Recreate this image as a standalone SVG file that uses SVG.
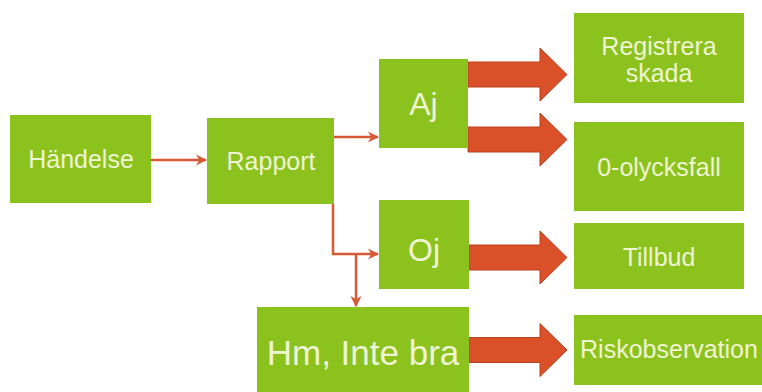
<svg xmlns="http://www.w3.org/2000/svg" width="762" height="392" viewBox="0 0 762 392">
<defs>
<style>
.box{fill:#8CC21E;}
.t{fill:#EFF4D2;font-family:"Liberation Sans",Arial,sans-serif;text-anchor:middle;}
.ln{fill:none;stroke:#D65A36;stroke-width:2.5;}
.blk{fill:#DA5029;stroke:#B9411F;stroke-width:1;}
</style>
<marker id="ah" viewBox="0 0 10 10" refX="9" refY="5" markerWidth="4.5" markerHeight="4.5" orient="auto" markerUnits="strokeWidth">
<path d="M0,0 L10,5 L0,10 L3,5 Z" fill="#D65A36"/>
</marker>
</defs>
<rect width="762" height="392" fill="#FFFFFF"/>
<g id="connectors">
<line class="ln" x1="151" y1="160" x2="206" y2="160" marker-end="url(#ah)"/>
<line class="ln" x1="334" y1="137" x2="378" y2="137" marker-end="url(#ah)"/>
<polyline class="ln" points="333,204 333,254 378,254" marker-end="url(#ah)"/>
<line class="ln" x1="356" y1="254" x2="356" y2="306" marker-end="url(#ah)"/>
<path class="blk" d="M468,62 H540 V48 L567,74.5 L540,101 V87 H468 Z"/>
<path class="blk" d="M468,127 H540 V113 L567,139.5 L540,166 V152 H468 Z"/>
<path class="blk" d="M469,245 H540 V231 L567,257.5 L540,284 V270 H469 Z"/>
<path class="blk" d="M469,337.5 H540 V323.5 L567,350 L540,376.5 V362.5 H469 Z"/>
</g>
<g id="handelse"><rect class="box" x="10" y="115" width="141" height="88"/><text class="t" x="81" y="168" font-size="25">Händelse</text></g>
<g id="rapport"><rect class="box" x="207" y="118" width="127" height="86"/><text class="t" x="271" y="170" font-size="25">Rapport</text></g>
<g id="aj"><rect class="box" x="379" y="59" width="89" height="89"/><text class="t" x="423.5" y="115" font-size="32">Aj</text></g>
<g id="oj"><rect class="box" x="379" y="200" width="90" height="89"/><text class="t" x="424" y="261" font-size="32">Oj</text></g>
<g id="hm"><rect class="box" x="257" y="307" width="212" height="90"/><text class="t" x="363" y="365" font-size="35">Hm, Inte bra</text></g>
<g id="registrera"><rect class="box" x="574" y="13" width="170" height="90"/><text class="t" x="659" y="55" font-size="25">Registrera</text><text class="t" x="659" y="82" font-size="25">skada</text></g>
<g id="olycksfall"><rect class="box" x="574" y="122" width="170" height="89"/><text class="t" x="659" y="176" font-size="25">0-olycksfall</text></g>
<g id="tillbud"><rect class="box" x="574" y="223" width="170" height="66"/><text class="t" x="659" y="266" font-size="25">Tillbud</text></g>
<g id="riskobservation"><rect class="box" x="574" y="315" width="188" height="70"/><text class="t" x="669" y="358" font-size="25">Riskobservation</text></g>
</svg>
